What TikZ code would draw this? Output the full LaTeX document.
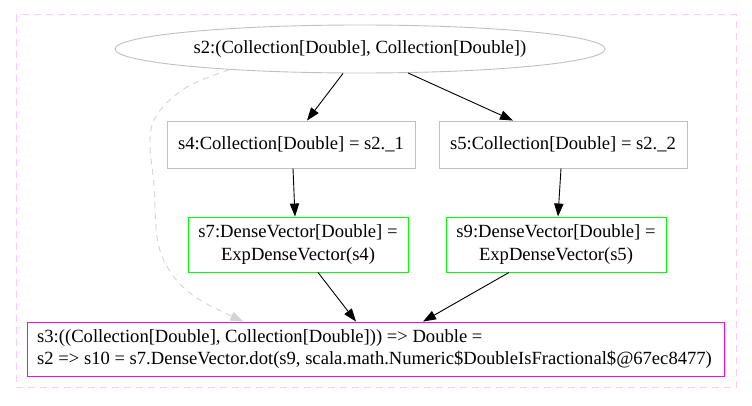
\documentclass[tikz,border=0pt]{standalone}
\usepackage{fontspec}
\setmainfont{Liberation Serif}
\usetikzlibrary{arrows.meta,shapes.geometric,calc}
\definecolor{boxgray}{HTML}{C0C0C0}
\definecolor{dashgray}{HTML}{D3D3D3}
\definecolor{clusterpink}{HTML}{FFC8FF}
\definecolor{boxgreen}{HTML}{00FF00}
\definecolor{boxmag}{HTML}{FF00FF}
\tikzset{
  every node/.style={font=\fontsize{18.6}{22.4}\selectfont, inner sep=0pt},
  graybox/.style={draw=boxgray, line width=0.9pt, rectangle, minimum width=248pt, minimum height=47pt},
  greenbox/.style={draw=boxgreen, line width=0.9pt, rectangle, minimum width=220pt, minimum height=55pt, align=center},
  magbox/.style={draw=boxmag, line width=0.9pt, rectangle, minimum width=697pt, minimum height=54pt},
  grayell/.style={draw=boxgray, line width=0.9pt, ellipse, minimum width=490pt, minimum height=48pt},
  arr/.style={draw=black, line width=0.9pt, -{Triangle[length=13pt,width=9.3pt]}},
  dasharr/.style={draw=dashgray, line width=0.9pt, dash pattern=on 6pt off 5pt, -{Triangle[length=13pt,width=9.3pt,fill=dashgray]}},
  cluster/.style={draw=clusterpink, line width=0.9pt, dash pattern=on 7pt off 5pt}
}
\begin{document}
\begin{tikzpicture}[x=1pt,y=1pt]
\useasboundingbox (0,0) rectangle (752,-405);
\draw[cluster] (16,-14.5) rectangle (736,-387);
\node[grayell] (s2) at (360,-49) {s2:(Collection[Double], Collection[Double])};
\node[graybox] (s4) at (291,-144.5) {s4:Collection[Double] = s2.\_1};
\node[graybox] (s5) at (563,-144.5) {s5:Collection[Double] = s2.\_2};
\node[greenbox] (s7) at (298,-244.5) {s7:DenseVector[Double] =\\ExpDenseVector(s4)};
\node[greenbox] (s9) at (556,-244.5) {s9:DenseVector[Double] =\\ExpDenseVector(s5)};
\node[magbox] (s3) at (375.5,-349) {};
\node[anchor=west, align=left] (s3text) at (37,-349) {s3:((Collection[Double], Collection[Double])) => Double =\\s2 => s10 = s7.DenseVector.dot(s9, scala.math.Numeric\$DoubleIsFractional\$@67ec8477)};
\draw[arr] ([xshift=-17pt]s2.south) -- ([xshift=16pt]s4.north);
\draw[arr] ([xshift=48pt,yshift=0.5pt]s2.south) -- ([xshift=-50pt]s5.north);
\draw[arr] ([xshift=2pt]s4.south) -- ([xshift=-3pt]s7.north);
\draw[arr] ([xshift=-2pt]s5.south) -- ([xshift=2pt]s9.north);
\draw[arr] ([xshift=20pt]s7.south) -- ([xshift=-19.5pt]s3.north);
\draw[arr] ([xshift=-47pt]s9.south) -- ([xshift=47.5pt]s3.north);
\coordinate (dstart) at (s2.189);
\coordinate (dend) at ([xshift=-132pt]s3.north);
\draw[dasharr] plot[smooth, tension=0.6] coordinates {(dstart) (187,-87) (158,-113) (150,-140) (154,-185) (158,-243) (174,-277) (200,-300) (dend)};
\end{tikzpicture}
\end{document}
